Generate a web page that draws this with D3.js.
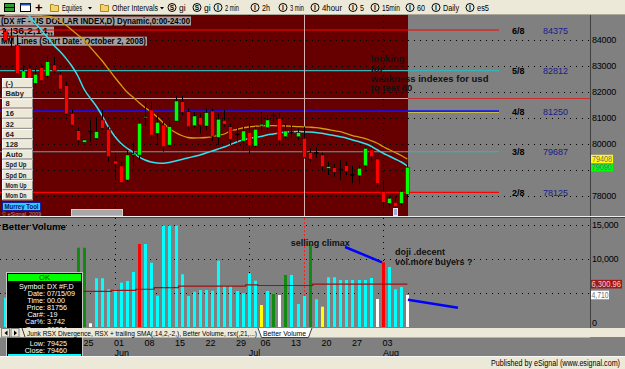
<!DOCTYPE html>
<html>
<head>
<meta charset="utf-8">
<script src="https://cdn.jsdelivr.net/npm/d3@7/dist/d3.min.js"></script>
<style>
  body { margin: 0; background: #ece9d8; }
  svg { display: block; font-family: "Liberation Sans", Arial, sans-serif; }
</style>
</head>
<body>
<svg id="chart" width="625" height="369"></svg>
<script>
// ---------- data ----------
const dates = [
  '2009-05-06','2009-05-07','2009-05-08','2009-05-11','2009-05-12','2009-05-13','2009-05-14','2009-05-15',
  '2009-05-18','2009-05-19','2009-05-20','2009-05-21','2009-05-22','2009-05-25','2009-05-26','2009-05-27',
  '2009-05-28','2009-05-29','2009-06-01','2009-06-02','2009-06-03','2009-06-04','2009-06-05','2009-06-08',
  '2009-06-09','2009-06-10','2009-06-11','2009-06-12','2009-06-15','2009-06-16','2009-06-17','2009-06-18',
  '2009-06-19','2009-06-22','2009-06-23','2009-06-24','2009-06-25','2009-06-26','2009-06-29','2009-06-30',
  '2009-07-01','2009-07-02','2009-07-06','2009-07-07','2009-07-08','2009-07-09','2009-07-10','2009-07-13',
  '2009-07-14','2009-07-15','2009-07-16','2009-07-17','2009-07-20','2009-07-21','2009-07-22','2009-07-23',
  '2009-07-24','2009-07-27','2009-07-28','2009-07-29','2009-07-30','2009-07-31','2009-08-03','2009-08-04',
  '2009-08-05','2009-08-06','2009-08-07'
];
const open = [84308,84143,83796,82514,82899,82322,82923,82603,83026,82668,82230,81167,80497,80050,80485,80204,
  80909,80551,79330,79138,78599,79561,79561,80997,81294,80397,80716,79946,80870,81613,81228,80689,81013,80678,
  81255,80243,80897,80651,80370,80100,80435,79908,80678,80613,81082,80975,80266,80458,80266,80204,79650,79665,
  79561,79049,79072,79023,79150,78818,78764,79150,79754,79407,78148,77702,77740,77702,78048];
const high = [84412,84451,84181,83026,83065,82911,83065,83346,83346,82757,82383,81294,80613,80178,80909,81036,
  81294,80651,79561,79303,79754,80062,80909,81602,81640,81167,80843,80843,81833,81833,81359,81217,81167,81359,
  81359,81167,81294,80782,80651,80651,80782,80651,81228,81101,81167,81167,80782,80743,80589,80650,79819,79843,
  79650,79303,79215,79369,79303,79150,79176,79881,79843,79434,78599,77956,77956,78252,79242];
const low = [83912,83681,82641,82449,82191,82191,82372,82514,82707,82064,81101,80651,80012,80023,80074,80139,
  80524,79303,78599,78445,78533,79111,79369,80651,80204,79946,79689,79869,80843,81101,80524,80601,80397,80524,
  80100,79946,80651,79946,80074,79715,79627,79850,80524,80524,80843,79919,80204,80228,80139,79425,79303,79457,
  78957,78791,78726,78599,78791,78472,78433,78918,79303,78341,77571,77532,77378,77571,77867];
const close = [83962,84066,82707,82795,82514,82668,82422,83153,82795,82102,81140,80716,80112,80139,80470,80458,
  80589,79496,79215,78495,79561,79600,80782,81036,80331,80820,79881,80651,81640,81205,80651,81063,80716,81190,
  80266,80936,80743,80166,80350,80485,79919,80551,80743,80909,81101,80112,80485,80440,80420,79460,79407,79650,
  79111,79111,78895,79010,78918,78800,79049,79819,79496,78472,77740,77894,77571,78148,79090];
const fastMA = [85914,85664,85414,85163,84913,84644,84374,84105,83797,83566,83296,82988,82603,82103,81756,81448,
  81063,80640,80293,80024,79831,79677,79485,79369,79292,79254,79242,79273,79331,79388,79446,79504,79561,79639,
  79715,79792,79870,79966,80062,80139,80197,80235,80274,80332,80370,80409,80447,80459,80466,80459,80447,80428,
  80397,80351,80312,80266,80216,80139,80081,80004,79908,79773,79639,79523,79408,79292,79138];
const slowMA = [84932,84940,84944,84944,84940,84932,84924,84913,84855,84721,84567,84374,84182,83989,83720,83450,
  83181,82873,82565,82276,81998,81794,81583,81390,81217,81025,80794,80582,80428,80312,80235,80216,80224,80235,
  80274,80320,80370,80486,80543,80601,80640,80667,80686,80690,80690,80686,80678,80667,80655,80647,80632,80613,
  80582,80543,80497,80459,80389,80312,80255,80197,80120,80024,79889,79773,79658,79542,79408];
const volume = [4309,5200,6100,4800,5600,6900,4500,5300,6200,5800,4900,6400,11662,11662,544,7162,
  7162,5544,5544,6515,6765,8088,12206,12206,9456,4603,14897,14897,14897,7750,4559,5191,5441,5441,
  5338,9750,6029,6029,5294,4956,7897,6809,3235,5294,4853,4706,7647,7647,3382,4559,12162,4074,
  2985,7309,7309,6912,6912,6912,6912,6912,7206,4118,9515,8824,5544,5882,4710];
// Better Volume bar class: N normal, CH churn, CU climax up, CD climax down, LV low volume
const volType = ['N','N','N','N','N','N','N','N','N','N','N','N','CH','CH','CD','N',
  'N','N','N','N','N','N','CU','N','N','N','N','N','N','N','N','N','N','N',
  'N','N','N','N','N','N','N','N','LV','N','CH','CD','CH','N','N','N','CH','N',
  'LV','N','N','N','N','N','N','N','N','CD','CU','N','N','N','CD'];
const volAvg = [4950,4950,4950,4950,4950,4950,4950,4950,4950,4950,4950,4950,5250,5250,5250,5250,
  5250,5250,5400,5400,5400,5400,5550,5550,5550,5800,5800,5800,5800,6000,6000,6000,6000,6000,
  6000,6000,6000,6000,6000,6000,6200,6200,6100,6100,6100,6100,6100,6100,6100,6100,6100,6300.96,
  6300.96,6300.96,6300.96,6300.96,6300.96,6300.96,6300.96,6300.96,6300.96,6300.96,6300.96,6300.96,6300.96,6300.96,6300.96];

const murreyNames = ['6/8','5/8','4/8','3/8','2/8'];
const murreyValues = [84375, 82812, 81250, 79687, 78125];
const priceGrid = [78000, 79000, 80000, 81000, 82000, 83000, 84000];
const priceLabels = [84000, 83000, 82000, 81000, 80000, 78000];
const volGrid = [5000, 10000, 15000];
const volLabels = [0, 10000, 15000];
const cursorDate = '2009-07-15';
const cursorPrice = 81756;

// ---------- layout ----------
const W = 625, H = 369;
const svg = d3.select('#chart');
const paneTop = 15, paneBottom = 216, redRight = 408, plotRight = 590;
const vTop = 218, vBottom = 328;
const tipRight = 82.5;

const x = d3.scalePoint().domain(dates).range([4.7, 407.3]);
const xi = i => x.range()[0] + i * x.step();
const y = d3.scaleLinear().domain([78125, 84375]).range([192.3, 30]);
const yv = d3.scaleLinear().domain([0, 15000]).range([327, 225]);
const parse = d3.timeParse('%Y-%m-%d');
const rx = d => Math.round(x(d));

// squeeze a text into a width if it runs over
const fit = (sel, w) => sel.each(function () {
  if (this.getComputedTextLength() > w) d3.select(this).attr('textLength', w).attr('lengthAdjust', 'spacingAndGlyphs');
});

const defs = svg.append('defs');
defs.append('clipPath').attr('id', 'priceClip')
  .append('rect').attr('x', 0).attr('y', paneTop).attr('width', plotRight).attr('height', paneBottom - paneTop);

// ---------- toolbar ----------
const tb = svg.append('g');
tb.append('rect').attr('width', W).attr('height', 15).attr('fill', '#ece9d8');
tb.append('line').attr('x1', 0).attr('x2', W).attr('y1', 14.5).attr('y2', 14.5).attr('stroke', '#aca899');
tb.append('rect').attr('x', 4.5).attr('y', 3.5).attr('width', 10).attr('height', 8).attr('fill', '#2f9a2f').attr('stroke', '#000');
tb.append('line').attr('x1', 4.5).attr('x2', 14.5).attr('y1', 7.5).attr('y2', 7.5).attr('stroke', '#000');
tb.append('rect').attr('x', 20.5).attr('y', 3.5).attr('width', 10).attr('height', 8).attr('fill', '#fff').attr('stroke', '#000');
tb.append('rect').attr('x', 20.5).attr('y', 3.5).attr('width', 10).attr('height', 2).attr('fill', '#244fa8');
tb.append('text').attr('x', 35).attr('y', 12).attr('font-size', 13).attr('font-weight', 'bold').text('+');
[[50, 'Equities', 20, 88], [100, 'Other Intervals', 46, 160]].forEach(([fx, name, w, ax]) => {
  tb.append('path').attr('d', `M${fx + .5},4.5h3l1,1h4v6h-8z`).attr('fill', '#f3d36b').attr('stroke', '#a8861b');
  tb.append('text').attr('x', fx + 12).attr('y', 11).attr('font-size', 8.5).text(name).call(fit, w);
  tb.append('path').attr('d', `M${ax},7h4l-2,2.5z`).attr('fill', '#000');
});
[['S', 'gi', 172, 7], ['S', 'gi', 197, 7], ['I', '2 min', 218, 14], ['I', '2h', 255, 8], ['I', '3 min', 283, 14],
 ['I', '4hour', 315, 20], ['I', '5', 353, 4], ['I', '15min', 375, 18], ['I', '60', 410, 8], ['I', 'Daily', 436, 16],
 ['I', 'es5', 470, 12]].forEach(([ic, name, qx, w]) => {
  tb.append('circle').attr('cx', qx).attr('cy', 7.5).attr('r', 4).attr('fill', 'none').attr('stroke', '#000');
  tb.append('text').attr('x', qx).attr('y', 10).attr('text-anchor', 'middle').attr('font-size', 6.5).attr('font-weight', 'bold').text(ic);
  tb.append('text').attr('x', qx + 7).attr('y', 11).attr('font-size', 8.5).text(name).call(fit, w);
});

// ---------- price pane ----------
const pp = svg.append('g');
pp.append('rect').attr('x', 0).attr('y', paneTop).attr('width', redRight).attr('height', paneBottom - paneTop).attr('fill', '#660000');
pp.append('rect').attr('x', redRight).attr('y', paneTop).attr('width', W - redRight).attr('height', paneBottom - paneTop).attr('fill', '#808080');
pp.append('line').attr('x1', plotRight + .5).attr('x2', plotRight + .5).attr('y1', paneTop).attr('y2', paneBottom).attr('stroke', '#404040');

// dotted grid
pp.selectAll('line.pgrid').data(priceGrid).join('line')
  .attr('x1', 0).attr('x2', plotRight).attr('y1', d => Math.round(y(d)) + .5).attr('y2', d => Math.round(y(d)) + .5)
  .attr('stroke', '#000').attr('stroke-dasharray', '1,5');
const monthStarts = dates.filter((d, i) => i > 0 && d.slice(5, 7) !== dates[i - 1].slice(5, 7));
pp.selectAll('line.mgrid').data(monthStarts).join('line')
  .attr('x1', d => rx(d) + .5).attr('x2', d => rx(d) + .5).attr('y1', paneTop).attr('y2', paneBottom)
  .attr('stroke', '#000').attr('stroke-dasharray', '1,5');

// header labels
const headers = ['(DX #F - US DOLLAR INDEX,D) Dynamic,0:00-24:00', '1,,36,2,14,,', 'MM Lines (Start Date: October 2, 2008)'];
const headerW = [191, 54, 147];
headers.forEach((t, i) => {
  const ty = 16.5 + i * 10.1;
  pp.append('rect').attr('x', 0).attr('y', ty).attr('width', headerW[i]).attr('height', 9).attr('fill', '#a2a2a2');
  pp.append('text').attr('x', 1).attr('y', ty + 7.6).attr('font-size', 9).attr('font-weight', 'bold')
    .attr('textLength', headerW[i] - 2).attr('lengthAdjust', 'spacingAndGlyphs').text(t);
});

// murrey lines
const murreyColor = ['#ff0000', '#36b4b4', '#1010ff', '#36b4b4', '#ff0000'];
pp.selectAll('line.murrey').data(murreyValues).join('line')
  .attr('x1', 0).attr('x2', 499).attr('y1', d => y(d)).attr('y2', d => y(d))
  .attr('stroke', (d, i) => murreyColor[i]).attr('stroke-width', (d, i) => i === 2 ? 1.6 : 1.2);
pp.append('line').attr('x1', redRight).attr('x2', 499).attr('y1', y(81250) + 1.3).attr('y2', y(81250) + 1.3).attr('stroke', '#e0d040').attr('stroke-width', .8);
pp.selectAll('text.mname').data(murreyNames).join('text')
  .attr('x', 512).attr('y', (d, i) => y(murreyValues[i]) + 3.5).attr('font-size', 9).attr('font-weight', 'bold').text(d => d);
pp.selectAll('text.mval').data(murreyValues).join('text')
  .attr('x', 543).attr('y', d => y(d) + 3.5).attr('font-size', 9).attr('fill', '#1a1a8c').text(d => d);

// crosshair
pp.append('line').attr('x1', 0).attr('x2', redRight).attr('y1', Math.round(y(cursorPrice)) + .5).attr('y2', Math.round(y(cursorPrice)) + .5).attr('stroke', '#d8a4a4');
pp.append('line').attr('x1', redRight).attr('x2', plotRight).attr('y1', Math.round(y(cursorPrice)) + .5).attr('y2', Math.round(y(cursorPrice)) + .5).attr('stroke', '#c83030');
pp.append('line').attr('x1', rx(cursorDate) + .5).attr('x2', rx(cursorDate) + .5).attr('y1', paneTop).attr('y2', paneBottom).attr('stroke', '#d8b0b0');

// moving averages
const clipG = pp.append('g').attr('clip-path', 'url(#priceClip)');
const maLine = d3.line().x((d, i) => x(dates[i])).y(d => y(d)).curve(d3.curveMonotoneX);
clipG.append('path').datum(slowMA).attr('d', maLine).attr('fill', 'none').attr('stroke', '#d49a10').attr('stroke-width', 1.3);
clipG.append('path').datum(fastMA).attr('d', maLine).attr('fill', 'none').attr('stroke', '#33e0f0').attr('stroke-width', 1.5);

// candles
const candles = dates.map((d, i) => ({ d, o: open[i], h: high[i], l: low[i], c: close[i] }));
clipG.selectAll('line.wick').data(candles).join('line')
  .attr('x1', d => rx(d.d) + .5).attr('x2', d => rx(d.d) + .5)
  .attr('y1', d => y(d.h)).attr('y2', d => y(d.l)).attr('stroke', '#000');
clipG.selectAll('rect.body').data(candles).join('rect')
  .attr('x', d => rx(d.d) - 1.5).attr('width', 4)
  .attr('y', d => y(Math.max(d.o, d.c)))
  .attr('height', d => Math.max(1, Math.abs(y(d.o) - y(d.c))))
  .attr('fill', d => Math.abs(d.c - d.o) < 25 ? '#000' : (d.c > d.o ? '#00ff00' : '#ff0000'))
  .attr('stroke', '#000').attr('stroke-width', .4);

// annotation
const note = ['looking', 'for', 'weakness indexes for usd', 'to test 80'];
pp.selectAll('text.note').data(note).join('text')
  .attr('x', xi(60)).attr('y', (d, i) => y(83130) + i * 9.7).attr('font-size', 9.5).attr('font-weight', 'bold')
  .attr('fill', '#111').text(d => d);

// left buttons
const buttons = ['(-)', 'Baby', '8', '16', '32', '64', '128', 'Auto', 'Spd Up', 'Spd Dn', 'Mom Up', 'Mom Dn'];
const bg = pp.append('g');
buttons.forEach((b, i) => {
  const by = 78 + i * 10.2;
  bg.append('rect').attr('x', 2.5).attr('y', by + .5).attr('width', 30).attr('height', 9).attr('fill', '#ece9d8').attr('stroke', '#fff');
  bg.append('path').attr('d', `M2.5,${by + 9.5}h30v-9`).attr('fill', 'none').attr('stroke', '#888');
  bg.append('text').attr('x', 5.5).attr('y', by + 7.8).attr('font-size', 7.5).attr('font-weight', 'bold').attr('fill', '#222').text(b).call(fit, 21);
});
bg.append('rect').attr('x', 2.5).attr('y', 202.5).attr('width', 38).attr('height', 8).attr('fill', '#33ccff').attr('stroke', '#1020a0');
bg.append('text').attr('x', 4.5).attr('y', 209.3).attr('font-size', 7.8).attr('font-weight', 'bold').attr('fill', '#101060')
  .attr('textLength', 34).attr('lengthAdjust', 'spacingAndGlyphs').text('Murrey Tool');
bg.append('text').attr('x', 2).attr('y', 215.5).attr('font-size', 5.5).attr('fill', '#b09090').text('© eSignal, 2009');
bg.append('rect').attr('x', 71.5).attr('y', 209.5).attr('width', 51).attr('height', 6.5).attr('fill', '#a8a8a8').attr('stroke', '#d0d0d0');
bg.append('rect').attr('x', 393.5).attr('y', 208.5).attr('width', 4).attr('height', 7).attr('fill', '#9fb0d8').attr('stroke', '#e8e8f8');

// price axis
const pAxis = d3.axisRight(y).tickValues(priceLabels).tickSize(0).tickPadding(2).tickFormat(d3.format('d'));
const pag = pp.append('g').attr('transform', `translate(${plotRight},0)`).call(pAxis);
pag.select('.domain').remove();
pag.selectAll('text').attr('font-size', 9).attr('font-family', 'Liberation Sans, Arial').attr('fill', '#000').attr('letter-spacing', -0.2);
const lastIdx = dates.length - 1;
[[slowMA[lastIdx], '#ffff00'], [close[lastIdx], '#00ff00']].forEach(([v, col]) => {
  pp.append('rect').attr('x', plotRight + 1).attr('y', y(v) - 4.2).attr('width', 22).attr('height', 8.4).attr('fill', col);
  pp.append('text').attr('x', plotRight + 2).attr('y', y(v) + 3).attr('font-size', 8.5).attr('fill', '#707070').text(Math.round(v)).call(fit, 20);
});

// pane separator
svg.append('line').attr('x1', 0).attr('x2', W).attr('y1', 216.5).attr('y2', 216.5).attr('stroke', '#f0f0f0');
svg.append('line').attr('x1', 0).attr('x2', W).attr('y1', 217.5).attr('y2', 217.5).attr('stroke', '#404040');

// ---------- volume pane ----------
const vp = svg.append('g');
vp.append('rect').attr('x', 0).attr('y', vTop).attr('width', W).attr('height', vBottom - vTop).attr('fill', '#808080');
vp.append('line').attr('x1', plotRight + .5).attr('x2', plotRight + .5).attr('y1', vTop).attr('y2', vBottom).attr('stroke', '#404040');
vp.selectAll('line.vgrid').data(volGrid).join('line')
  .attr('x1', 0).attr('x2', plotRight).attr('y1', d => Math.round(yv(d)) + .5).attr('y2', d => Math.round(yv(d)) + .5)
  .attr('stroke', '#000').attr('stroke-dasharray', '1,5');
vp.selectAll('line.vm').data(monthStarts).join('line')
  .attr('x1', d => rx(d) + .5).attr('x2', d => rx(d) + .5).attr('y1', vTop).attr('y2', 327)
  .attr('stroke', '#000').attr('stroke-dasharray', '1,5');
vp.append('line').attr('x1', rx(cursorDate) + .5).attr('x2', rx(cursorDate) + .5).attr('y1', vTop).attr('y2', 327)
  .attr('stroke', '#ff2020').attr('stroke-dasharray', '2,2');
vp.append('text').attr('x', 2).attr('y', 229.5).attr('font-size', 9.5).attr('font-weight', 'bold').text('Better Volume');

const volColor = d3.scaleOrdinal().domain(['N', 'CH', 'CU', 'CD', 'LV']).range(['#00ffff', '#118a11', '#ff0000', '#ffffff', '#ffff00']);
vp.selectAll('rect.vol').data(volume).join('rect')
  .attr('x', (d, i) => rx(dates[i]) - 1).attr('width', 3)
  .attr('y', d => yv(d)).attr('height', d => yv(0) - yv(d))
  .attr('fill', (d, i) => volColor(volType[i]));
vp.append('path').datum(volAvg)
  .attr('d', d3.line().x((d, i) => x(dates[i])).y(d => yv(d)).curve(d3.curveStep))
  .attr('fill', 'none').attr('stroke', '#a01010').attr('stroke-width', 1.2);

// annotations
const volNotes = [['selling climax', 46.9, 11985], ['doji .decent', 64, 10530], ['vol.more buyers ?', 64, 9060]];
vp.selectAll('text.vnote').data(volNotes).join('text')
  .attr('x', d => xi(d[1])).attr('y', d => yv(d[2])).attr('font-size', 9).attr('font-weight', 'bold').attr('fill', '#111').text(d => d[0]);
const arrows = [[[55.8, 11765], [61.85, 9515]], [[66.1, 4015], [74.3, 2838]]];
vp.selectAll('line.arrow').data(arrows).join('line')
  .attr('x1', d => xi(d[0][0])).attr('y1', d => yv(d[0][1])).attr('x2', d => xi(d[1][0])).attr('y2', d => yv(d[1][1]))
  .attr('stroke', '#0000ff').attr('stroke-width', 2.5);

// volume axis
const vAxis = d3.axisRight(yv).tickValues(volLabels).tickSize(0).tickPadding(2).tickFormat(d3.format(','));
const vag = vp.append('g').attr('transform', `translate(${plotRight},0)`).call(vAxis);
vag.select('.domain').remove();
vag.selectAll('text').attr('font-size', 9).attr('font-family', 'Liberation Sans, Arial').attr('fill', '#000').attr('letter-spacing', -0.2)
  .attr('dy', d => d === 0 ? '-0.2em' : '0.32em');
const avgLast = volAvg[lastIdx], volLast = volume[lastIdx];
vp.append('rect').attr('x', plotRight + 1).attr('y', yv(avgLast) - 4.3).attr('width', 31).attr('height', 8.6).attr('fill', '#a01818');
vp.append('text').attr('x', plotRight + 1.5).attr('y', yv(avgLast) + 3).attr('font-size', 8.5).attr('fill', '#f0d0d0')
  .text(d3.format(',.2f')(avgLast)).call(fit, 29.5);
vp.append('rect').attr('x', plotRight + 1).attr('y', yv(volLast) - 4.3).attr('width', 18).attr('height', 8.6).attr('fill', '#ffffff');
vp.append('text').attr('x', plotRight + 1.5).attr('y', yv(volLast) + 3).attr('font-size', 8.5).attr('fill', '#707070')
  .text(d3.format(',')(volLast)).call(fit, 17);

// ---------- date axis ----------
svg.append('rect').attr('x', 0).attr('y', 337).attr('width', W).attr('height', 20).attr('fill', '#808080');
// labels that sit under the data window are hidden in the original
const mondays = dates.filter(d => parse(d).getDay() === 1 && x(d) > tipRight);
const dAxis = d3.axisBottom(x).tickValues(mondays).tickSize(0).tickPadding(0).tickFormat(d => d.slice(8));
const dag = svg.append('g').attr('transform', 'translate(0,340)').call(dAxis);
dag.select('.domain').remove();
dag.selectAll('text').attr('font-size', 9).attr('font-family', 'Liberation Sans, Arial').attr('fill', '#000').attr('text-anchor', 'start').attr('dx', -1);
const mAxis = d3.axisBottom(x).tickValues(monthStarts).tickSize(0).tickPadding(0).tickFormat(d => d3.timeFormat('%b')(parse(d)));
const mag = svg.append('g').attr('transform', 'translate(0,349.5)').call(mAxis);
mag.select('.domain').remove();
mag.selectAll('text').attr('font-size', 9).attr('font-family', 'Liberation Sans, Arial').attr('fill', '#000').attr('text-anchor', 'start').attr('dx', -0.5);

// ---------- data window tooltip ----------
const ci = dates.indexOf(cursorDate);
const tip = svg.append('g');
tip.append('rect').attr('x', 6.5).attr('y', 272.5).attr('width', tipRight - 6.5).attr('height', 90).attr('fill', '#000').attr('stroke', '#c8c8c8');
tip.append('rect').attr('x', 8).attr('y', 274).attr('width', 73).attr('height', 7).attr('fill', '#00ff00');
tip.append('text').attr('x', 44.5).attr('y', 280).attr('text-anchor', 'middle').attr('font-size', 7.5).attr('fill', '#004000').text('OK');
// the High row lies fully under the study tab strip, so only the rows that show are written
const tipRows = [['Symbol:', 'DX #F,D', 0], ['Date:', d3.timeFormat('%m/%d/%y')(parse(cursorDate)), 1], ['Time:', '00.00', 2],
  ['Price:', cursorPrice, 3], ['Car#:', '-19', 4], ['Car%:', '3.742', 5], ['Open:', open[ci], 6],
  ['Low:', low[ci], 8], ['Close:', close[ci], 9]];
tipRows.forEach(([k, v, r]) => {
  const ty = 288.5 + r * 7.19;
  tip.append('text').attr('x', 45).attr('y', ty).attr('text-anchor', 'end').attr('font-size', 7.2).attr('fill', '#fff').text(k);
  tip.append('text').attr('x', 47).attr('y', ty).attr('font-size', 7.2).attr('fill', '#fff').text(v);
});
tip.append('rect').attr('x', 8).attr('y', 354).attr('width', 73).attr('height', 6).attr('fill', '#00ffff');

// ---------- study tabs ----------
const tabs = svg.append('g');
tabs.append('rect').attr('x', 0).attr('y', 328).attr('width', plotRight).attr('height', 9.5).attr('fill', '#ece9d8');
[[1.5, 'M7.5,330.5v5l-3,-2.5z'], [11, 'M14,330.5v5l3,-2.5z']].forEach(([bx, tri]) => {
  tabs.append('rect').attr('x', bx).attr('y', 328.5).attr('width', 8).attr('height', 8.5).attr('fill', '#ece9d8').attr('stroke', '#808080');
  tabs.append('path').attr('d', tri).attr('fill', '#000');
});
tabs.append('line').attr('x1', 22).attr('x2', 25).attr('y1', 328).attr('y2', 337).attr('stroke', '#404040');
tabs.append('text').attr('x', 27).attr('y', 335.5).attr('font-size', 8).attr('textLength', 230).attr('lengthAdjust', 'spacingAndGlyphs')
  .text('Junk RSX Divergence, RSX + trailing SMA(,14,2,-2,), Better Volume, rsx(,21,...)');
tabs.append('path').attr('d', 'M258,328L261.5,337.5H308.5L312,328').attr('fill', '#fff').attr('stroke', '#404040');
tabs.append('text').attr('x', 263).attr('y', 335.5).attr('font-size', 8).attr('textLength', 43).attr('lengthAdjust', 'spacingAndGlyphs').text('Better Volume');

// ---------- footer ----------
svg.append('line').attr('x1', 0).attr('x2', W).attr('y1', 356.5).attr('y2', 356.5).attr('stroke', '#f8f8f8');
svg.append('rect').attr('x', 0).attr('y', 357).attr('width', W).attr('height', 12).attr('fill', '#ece9d8');
svg.append('text').attr('x', 620).attr('y', 365.5).attr('text-anchor', 'end').attr('font-size', 8.5)
  .attr('textLength', 129).attr('lengthAdjust', 'spacingAndGlyphs').text('Published by eSignal (www.esignal.com)');
</script>
</body>
</html>
